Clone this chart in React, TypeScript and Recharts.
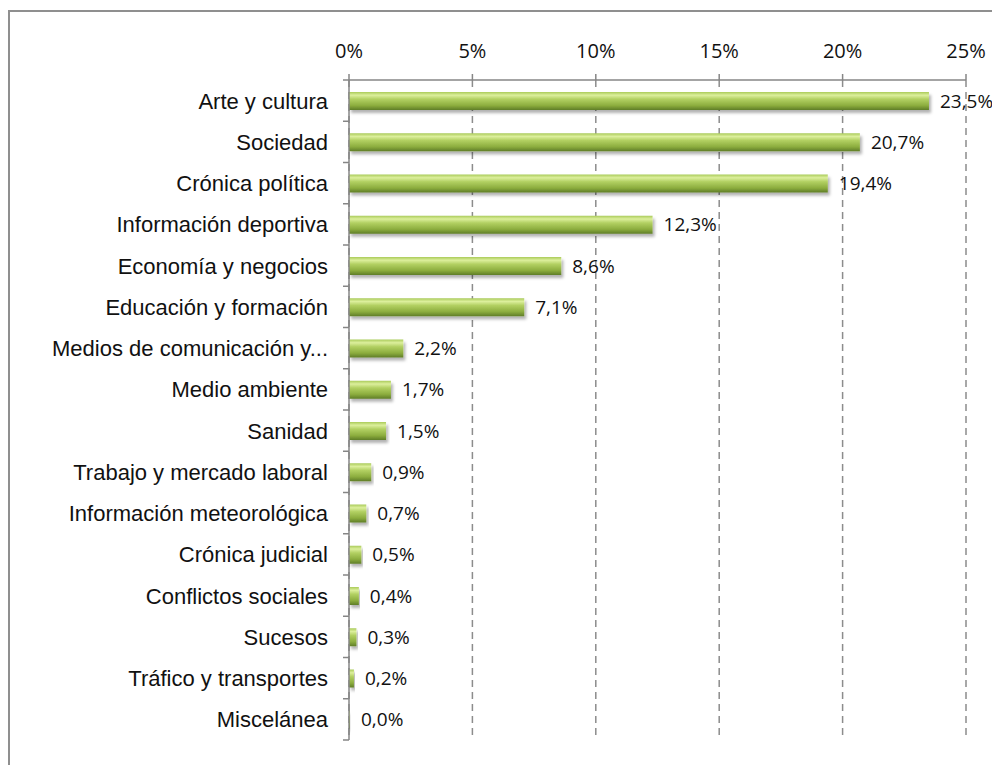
import { Bar, BarChart, CartesianGrid, LabelList, XAxis, YAxis } from "recharts";

const categories = [
  "Arte y cultura",
  "Sociedad",
  "Crónica política",
  "Información deportiva",
  "Economía y negocios",
  "Educación y formación",
  "Medios de comunicación y...",
  "Medio ambiente",
  "Sanidad",
  "Trabajo y mercado laboral",
  "Información meteorológica",
  "Crónica judicial",
  "Conflictos sociales",
  "Sucesos",
  "Tráfico y transportes",
  "Miscelánea",
];
const shares = [23.5, 20.7, 19.4, 12.3, 8.6, 7.1, 2.2, 1.7, 1.5, 0.9, 0.7, 0.5, 0.4, 0.3, 0.2, 0.04];
const labels = ["23,5%", "20,7%", "19,4%", "12,3%", "8,6%", "7,1%", "2,2%", "1,7%", "1,5%", "0,9%", "0,7%", "0,5%", "0,4%", "0,3%", "0,2%", "0,0%"];
const xTicks = [0, 5, 10, 15, 20, 25];

const data = categories.map((name, i) => ({ name, value: shares[i], label: labels[i] }));

const PLOT_H = 660;
const BAND = PLOT_H / categories.length;
const axisGray = "#868686";
const numFont = "'Open Sans', sans-serif";

function CategoryTick(props: any) {
  const { x, y, payload, index } = props;
  return (
    <g>
      <line x1={x - 6} x2={x} y1={y - BAND / 2} y2={y - BAND / 2} stroke={axisGray} strokeWidth={1.5} />
      {index === categories.length - 1 && (
        <line x1={x - 6} x2={x} y1={y + BAND / 2} y2={y + BAND / 2} stroke={axisGray} strokeWidth={1.5} />
      )}
      <text
        x={x - 21}
        y={y}
        dy={8}
        textAnchor="end"
        fill="#111"
        fontSize={22}
        fontFamily="'Liberation Sans', sans-serif"
      >
        {payload.value}
      </text>
    </g>
  );
}

export default function App() {
  return (
    <div style={{ width: 992, height: 757, overflow: "hidden" }}>
      <div
        style={{
          marginTop: 2,
          width: 1010,
          height: 800,
          borderTop: "2px solid #8f8f8f",
          borderLeft: "2px solid #8f8f8f",
        }}
      >
        <BarChart
          width={990}
          height={745}
          data={data}
          layout="vertical"
          margin={{ top: 38, right: 34, bottom: 17, left: 0 }}
        >
          <defs>
            <linearGradient id="barGreen" x1="0" y1="0" x2="0" y2="1">
              <stop offset="0%" stopColor="#aacb5a" />
              <stop offset="18%" stopColor="#dcef9c" />
              <stop offset="40%" stopColor="#b2d062" />
              <stop offset="75%" stopColor="#8cad3e" />
              <stop offset="100%" stopColor="#5f7d27" />
            </linearGradient>
            <filter id="barShadow" x="-5%" y="-30%" width="115%" height="180%">
              <feDropShadow dx={2} dy={3} stdDeviation={1.5} floodColor="#000" floodOpacity={0.3} />
            </filter>
          </defs>
          <CartesianGrid
            horizontal={false}
            vertical
            stroke="#8c8c8c"
            strokeWidth={1.5}
            strokeDasharray="7 5"
          />
          <XAxis
            type="number"
            orientation="top"
            domain={[0, 25]}
            ticks={xTicks}
            tickFormatter={(v) => `${v}%`}
            height={30}
            tickSize={6}
            tickMargin={16}
            axisLine={{ stroke: axisGray, strokeWidth: 1.5 }}
            tickLine={{ stroke: axisGray, strokeWidth: 1.5 }}
            tick={{ fill: "#111", fontSize: 20, fontFamily: numFont }}
          />
          <YAxis
            type="category"
            dataKey="name"
            width={339}
            tickSize={0}
            tickMargin={0}
            tickLine={false}
            interval={0}
            axisLine={{ stroke: axisGray, strokeWidth: 1.5 }}
            tick={<CategoryTick />}
          />
          <Bar dataKey="value" fill="url(#barGreen)" barSize={18} filter="url(#barShadow)" isAnimationActive={false}>
            <LabelList
              dataKey="label"
              position="right"
              offset={11}
              fill="#111"
              fontSize={19}
              fontFamily={numFont}
            />
          </Bar>
        </BarChart>
      </div>
    </div>
  );
}
